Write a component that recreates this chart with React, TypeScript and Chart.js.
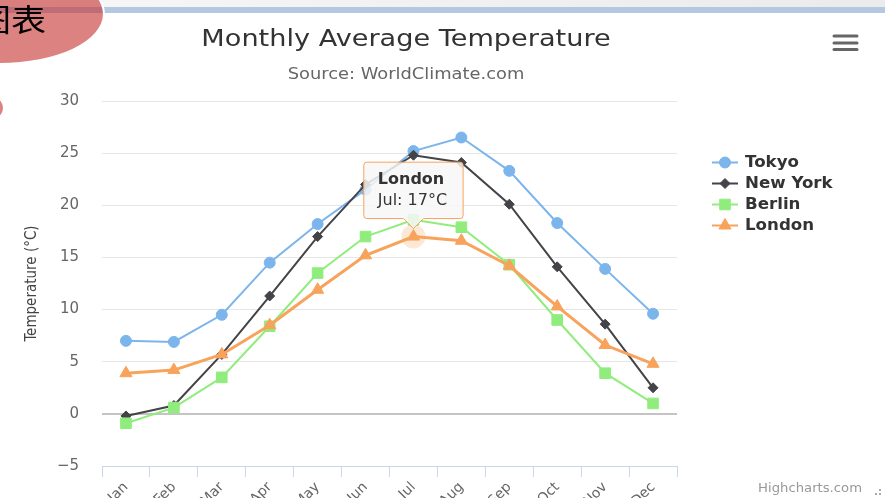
import React, { useEffect, useRef } from 'react';
import { Chart, registerables } from 'chart.js';
import { drawPoint } from 'chart.js/helpers';

Chart.register(...registerables);

const months = ['Jan', 'Feb', 'Mar', 'Apr', 'May', 'Jun', 'Jul', 'Aug', 'Sep', 'Oct', 'Nov', 'Dec'];
const tokyo = [7.0, 6.9, 9.5, 14.5, 18.2, 21.5, 25.2, 26.5, 23.3, 18.3, 13.9, 9.6];
const newYork = [-0.2, 0.8, 5.7, 11.3, 17.0, 22.0, 24.8, 24.1, 20.1, 14.1, 8.6, 2.5];
const berlin = [-0.9, 0.6, 3.5, 8.4, 13.5, 17.0, 18.6, 17.9, 14.3, 9.0, 3.9, 1.0];
const london = [3.9, 4.2, 5.7, 8.5, 11.9, 15.2, 17.0, 16.6, 14.2, 10.3, 6.6, 4.8];

const seriesNames = ['Tokyo', 'New York', 'Berlin', 'London'];
const seriesColors = ['#7cb5ec', '#434348', '#90ed7d', '#f7a35c'];
const seriesMarkers = ['circle', 'rectRot', 'rect', 'triangle'];
const markerRadius = [5.5, 5, 7.5, 7];

const yMin = -5;
const yMax = 30;
const yStep = 5;

const titleText = 'Monthly Average Temperature';
const subtitleText = 'Source: WorldClimate.com';
const yTitleText = 'Temperature (°C)';
const creditsText = 'Highcharts.com';

const FONT = '"DejaVu Sans", Verdana, sans-serif';

function stretchedText(ctx: CanvasRenderingContext2D, text: string, x: number, y: number, sx: number) {
  ctx.save();
  ctx.translate(x, y);
  ctx.scale(sx, 1);
  ctx.fillText(text, 0, 0);
  ctx.restore();
}

const decorPlugin = {
  id: 'decor',
  beforeDatasetsDraw(chart: any) {
    const active = chart.getActiveElements();
    const ctx = chart.ctx;
    active.forEach((a: any) => {
      const el = chart.getDatasetMeta(a.datasetIndex).data[a.index];
      ctx.save();
      ctx.beginPath();
      ctx.arc(el.x, el.y, 12, 0, Math.PI * 2);
      ctx.fillStyle = 'rgba(247,163,92,0.25)';
      ctx.fill();
      ctx.restore();
    });
  },
  afterDraw(chart: any) {
    const ctx = chart.ctx;
    ctx.save();
    // title
    ctx.fillStyle = '#333333';
    ctx.font = `23px ${FONT}`;
    ctx.textAlign = 'center';
    ctx.textBaseline = 'alphabetic';
    stretchedText(ctx, titleText, 406, 46, 1.18);
    // subtitle
    ctx.fillStyle = '#666666';
    ctx.font = `15px ${FONT}`;
    stretchedText(ctx, subtitleText, 406, 79, 1.19);
    // legend
    chart.data.datasets.forEach((ds: any, i: number) => {
      const y = 162.5 + i * 21;
      ctx.strokeStyle = ds.borderColor;
      ctx.lineWidth = 2;
      ctx.beginPath();
      ctx.moveTo(712, y);
      ctx.lineTo(738, y);
      ctx.stroke();
      ctx.fillStyle = ds.pointBackgroundColor;
      ctx.strokeStyle = ds.pointBackgroundColor;
      ctx.lineWidth = 1;
      drawPoint(ctx, { pointStyle: ds.pointStyle, radius: ds.pointRadius, borderWidth: 1, rotation: 0 }, 725, y);
      ctx.fillStyle = '#333333';
      ctx.font = `bold 15px ${FONT}`;
      ctx.textAlign = 'left';
      ctx.textBaseline = 'middle';
      stretchedText(ctx, ds.label, 745, y + 1, 1.11);
    });
    // menu icon
    ctx.strokeStyle = '#666666';
    ctx.lineWidth = 3;
    ctx.lineCap = 'round';
    [36, 43, 49.5].forEach((yy) => {
      ctx.beginPath();
      ctx.moveTo(834, yy);
      ctx.lineTo(857, yy);
      ctx.stroke();
    });
    // credits
    ctx.fillStyle = '#999999';
    ctx.font = `12px ${FONT}`;
    ctx.textAlign = 'right';
    ctx.textBaseline = 'alphabetic';
    stretchedText(ctx, creditsText, 862, 492, 1.1);
    ctx.fillStyle = '#aaaaaa';
    [[879, 489], [875, 493], [879, 493]].forEach(([dx, dy]) => ctx.fillRect(dx, dy, 2, 2));
    ctx.restore();
  },
};

export default function App() {
  const canvasRef = useRef<HTMLCanvasElement | null>(null);

  useEffect(() => {
    const seriesData = [tokyo, newYork, berlin, london];
    const chart = new Chart(canvasRef.current as HTMLCanvasElement, {
      type: 'line',
      data: {
        labels: months,
        datasets: seriesData.map((d, i) => ({
          label: seriesNames[i],
          data: d,
          borderColor: seriesColors[i],
          backgroundColor: seriesColors[i],
          pointBackgroundColor: seriesColors[i],
          pointBorderColor: seriesColors[i],
          pointHoverBackgroundColor: seriesColors[i],
          pointHoverBorderColor: seriesColors[i],
          pointStyle: seriesMarkers[i],
          pointRadius: markerRadius[i],
          pointHoverRadius: markerRadius[i],
          pointBorderWidth: 1,
          pointHoverBorderWidth: 1,
          borderWidth: i === 3 ? 3 : 2,
          tension: 0,
          fill: false,
          order: 3 - i,
        })),
      },
      options: {
        responsive: false,
        animation: false,
        events: [],
        layout: { padding: { left: 0, top: 101, right: 208, bottom: 0 } },
        plugins: {
          legend: { display: false },
          title: { display: false },
          tooltip: {
            enabled: true,
            backgroundColor: 'rgba(247,247,247,0.85)',
            borderColor: '#f7a35c',
            borderWidth: 1,
            titleColor: '#333333',
            bodyColor: '#333333',
            titleFont: { family: FONT, size: 16, weight: 'bold' },
            bodyFont: { family: FONT, size: 16 },
            displayColors: false,
            padding: { top: 8, bottom: 8, left: 14, right: 16 },
            caretSize: 10,
            caretPadding: 8,
            cornerRadius: 3,
            yAlign: 'bottom',
            xAlign: 'center',
            titleMarginBottom: 2,
            callbacks: {
              title: (items: any[]) => items[0].dataset.label,
              label: (item: any) => `${item.label}: ${item.parsed.y}°C`,
            },
          },
        },
        scales: {
          x: {
            offset: true,
            afterFit: (scale: any) => {
              scale.height = 32;
            },
            grid: {
              offset: true,
              drawOnChartArea: false,
              drawTicks: true,
              tickLength: 11,
              color: '#ccd6eb',
            },
            border: { display: true, color: '#ccd6eb', width: 1 },
            ticks: {
              autoSkip: false,
              minRotation: 45,
              maxRotation: 45,
              color: '#666666',
              font: { family: FONT, size: 14 },
              padding: 2,
            },
          },
          y: {
            min: yMin,
            max: yMax,
            afterFit: (scale: any) => {
              scale.width = 102;
            },
            ticks: {
              stepSize: yStep,
              padding: 23,
              color: '#666666',
              font: { family: FONT, size: 15 },
              callback: (v: any) => String(v).replace('-', '\u2212'),
            },
            grid: {
              drawTicks: false,
              color: (c: any) => (c.tick && c.tick.value === 0 ? '#c4c4c4' : c.tick && c.tick.value === yMin ? 'rgba(0,0,0,0)' : '#e6e6e6'),
              lineWidth: (c: any) => (c.tick && c.tick.value === 0 ? 2 : 1),
            },
            border: { display: false },
            title: {
              display: true,
              text: yTitleText,
              color: '#444444',
              font: { family: '"DejaVu Sans Condensed", "Liberation Sans Narrow", "Liberation Sans", sans-serif', size: 15 },
              padding: { top: 23, bottom: 0 },
            },
          },
        },
      },
      plugins: [decorPlugin],
    } as any);

    const meta = chart.getDatasetMeta(3);
    const pt: any = meta.data[6];
    chart.setActiveElements([{ datasetIndex: 3, index: 6 }]);
    chart.tooltip!.setActiveElements([{ datasetIndex: 3, index: 6 }], { x: pt.x, y: pt.y });
    chart.update();

    return () => chart.destroy();
  }, []);

  return (
    <div style={{ position: 'fixed', left: 0, top: 0, width: 885, height: 498, overflow: 'hidden', background: '#ffffff' }}>
      <div style={{ position: 'absolute', left: 0, top: 0, width: 885, height: 7, background: 'linear-gradient(90deg, #f7f7f7, #ebebeb)' }} />
      <div style={{ position: 'absolute', left: 0, top: 7, width: 885, height: 6, background: '#b4c8e2' }} />
      <canvas ref={canvasRef} width={885} height={498} style={{ position: 'absolute', left: 0, top: 0, width: 885, height: 498 }} />
      <div style={{ position: 'absolute', left: -105, top: -37, width: 206, height: 98, borderRadius: '50%', background: 'rgba(196,48,46,0.6)', border: '2px solid #ffffff' }} />
      <div style={{ position: 'absolute', left: -45, top: 91, width: 46, height: 30, borderRadius: '50%', background: 'rgba(196,48,46,0.6)', border: '2px solid #ffffff' }} />
      <div style={{ position: 'absolute', left: -24, top: 2, fontFamily: '"Noto Sans CJK SC", sans-serif', fontSize: 31, lineHeight: '31px', color: '#000000', transform: 'scaleX(1.13)', transformOrigin: 'left top', whiteSpace: 'nowrap' }}>图表</div>
    </div>
  );
}
